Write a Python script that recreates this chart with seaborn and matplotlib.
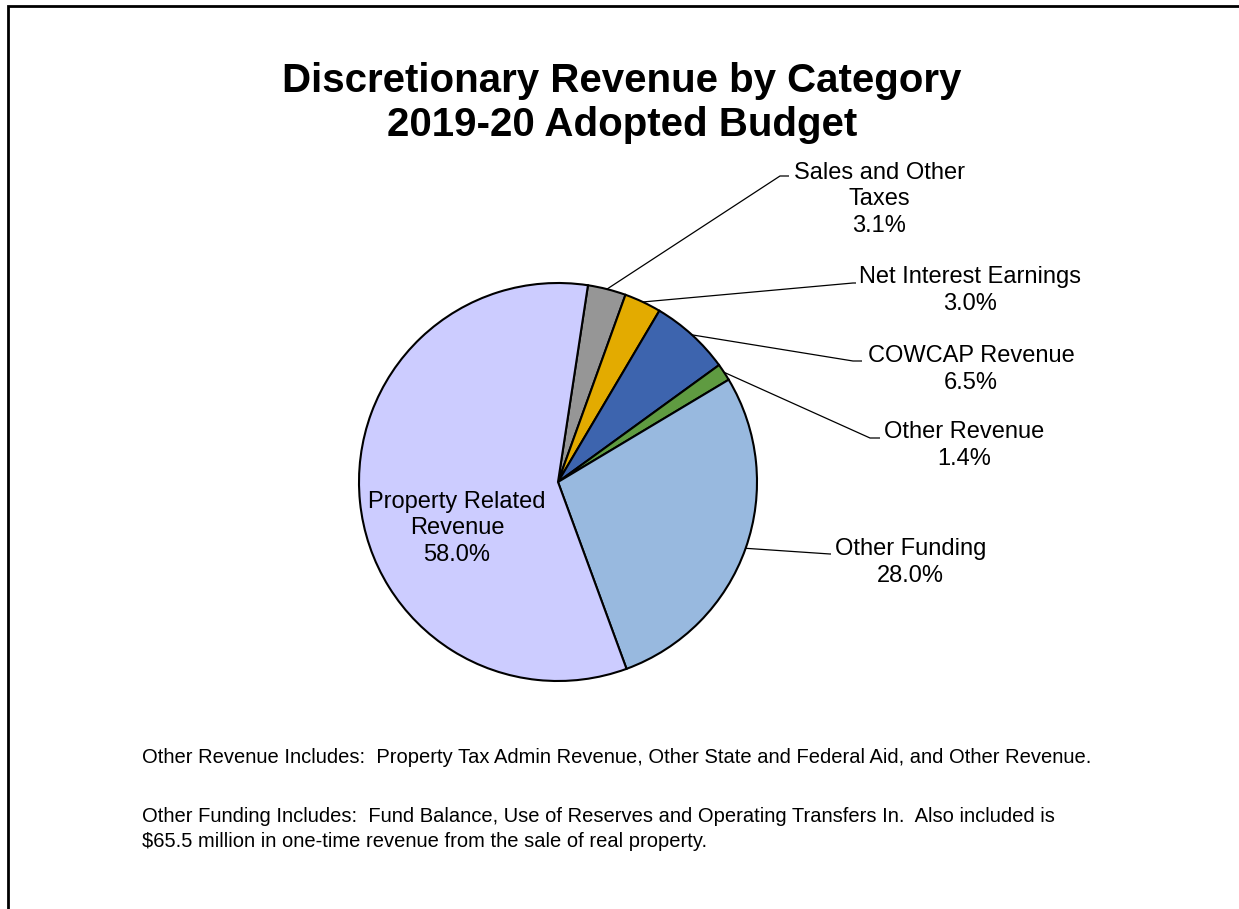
import matplotlib
matplotlib.use("Agg")
import matplotlib.pyplot as plt
import numpy as np
import seaborn as sns

# Revenue categories, listed clockwise from the top of the pie
categories = [
    "Sales and Other\nTaxes",
    "Net Interest Earnings",
    "COWCAP Revenue",
    "Other Revenue",
    "Other Funding",
    "Property Related\nRevenue",
]
shares = [3.1, 3.0, 6.5, 1.4, 28.0, 58.0]
colors = ["#969696", "#E3AB00", "#3D64AE", "#5F9B41", "#98B9DF", "#CCCCFF"]

title_lines = ["Discretionary Revenue by Category", "2019-20 Adopted Budget"]
notes = [
    "Other Revenue Includes:  Property Tax Admin Revenue, Other State and Federal Aid, and Other Revenue.",
    "Other Funding Includes:  Fund Balance, Use of Reserves and Operating Transfers In.  Also included is\n"
    "$65.5 million in one-time revenue from the sale of real property.",
]

sns.set_theme(style="white")
plt.rcParams["font.family"] = ["Liberation Sans", "DejaVu Sans"]

W, H = 1239, 909
fig = plt.figure(figsize=(W / 100, H / 100), dpi=100)
fig.patch.set_facecolor("white")
ax = fig.add_axes([0, 0, 1, 1])


def Y(py):
    """Convert a top-down pixel row to the axes' bottom-up data coordinate."""
    return H - py


cx, cy, R = 558, 482, 199
wedges, _ = ax.pie(
    shares,
    colors=colors,
    startangle=90 - 8.66,
    counterclock=False,
    center=(cx, Y(cy)),
    radius=R,
    wedgeprops=dict(edgecolor="black", linewidth=1.5),
)
ax.set_xlim(0, W)
ax.set_ylim(0, H)
ax.set_aspect("equal")
ax.axis("off")

# label placement: text centre x, last-line baseline, leader elbow and end
label_layout = [
    dict(x=879, y=232, elbow=(780, 176), end=(789, 176)),
    dict(x=970, y=310, elbow=(853, 283), end=(856, 283)),
    dict(x=971, y=389, elbow=(853, 361), end=(862, 361)),
    dict(x=964.5, y=465, elbow=(870, 438), end=(880, 438)),
    dict(x=910.5, y=582, elbow=(830, 554), end=(831, 554)),
    dict(x=457, y=561, elbow=None, end=None),
]

for wedge, cat, val, lay in zip(wedges, categories, shares, label_layout):
    ax.text(lay["x"], Y(lay["y"]), f"{cat}\n{val:.1f}%", ha="center", va="baseline",
            multialignment="center", fontsize=17, linespacing=1.27, color="black")
    if lay["elbow"] is not None:
        mid = np.deg2rad((wedge.theta1 + wedge.theta2) / 2)
        x0 = cx + R * np.cos(mid)
        y0 = Y(cy) + R * np.sin(mid)
        ex, ey = lay["elbow"]
        fx, fy = lay["end"]
        ax.plot([x0, ex, fx], [y0, Y(ey), Y(fy)], color="black", linewidth=0.9,
                solid_capstyle="butt", zorder=3)

# two-line title
ax.text(622, Y(136), "\n".join(title_lines), ha="center", va="baseline",
        multialignment="center", fontsize=29, fontweight="bold",
        linespacing=1.19, color="black")

# footnotes
ax.text(142, Y(763), notes[0], ha="left", va="baseline", fontsize=14.5, color="black")
ax.text(142, Y(847), notes[1], ha="left", va="baseline", fontsize=14.5,
        linespacing=1.43, color="black")

# frame edge along the top and left
ax.plot([8, 8, W + 5], [Y(H + 5), Y(6), Y(6)], color="black", linewidth=2,
        solid_joinstyle="miter", clip_on=False)

fig.savefig("out.png", dpi=100, facecolor="white")
